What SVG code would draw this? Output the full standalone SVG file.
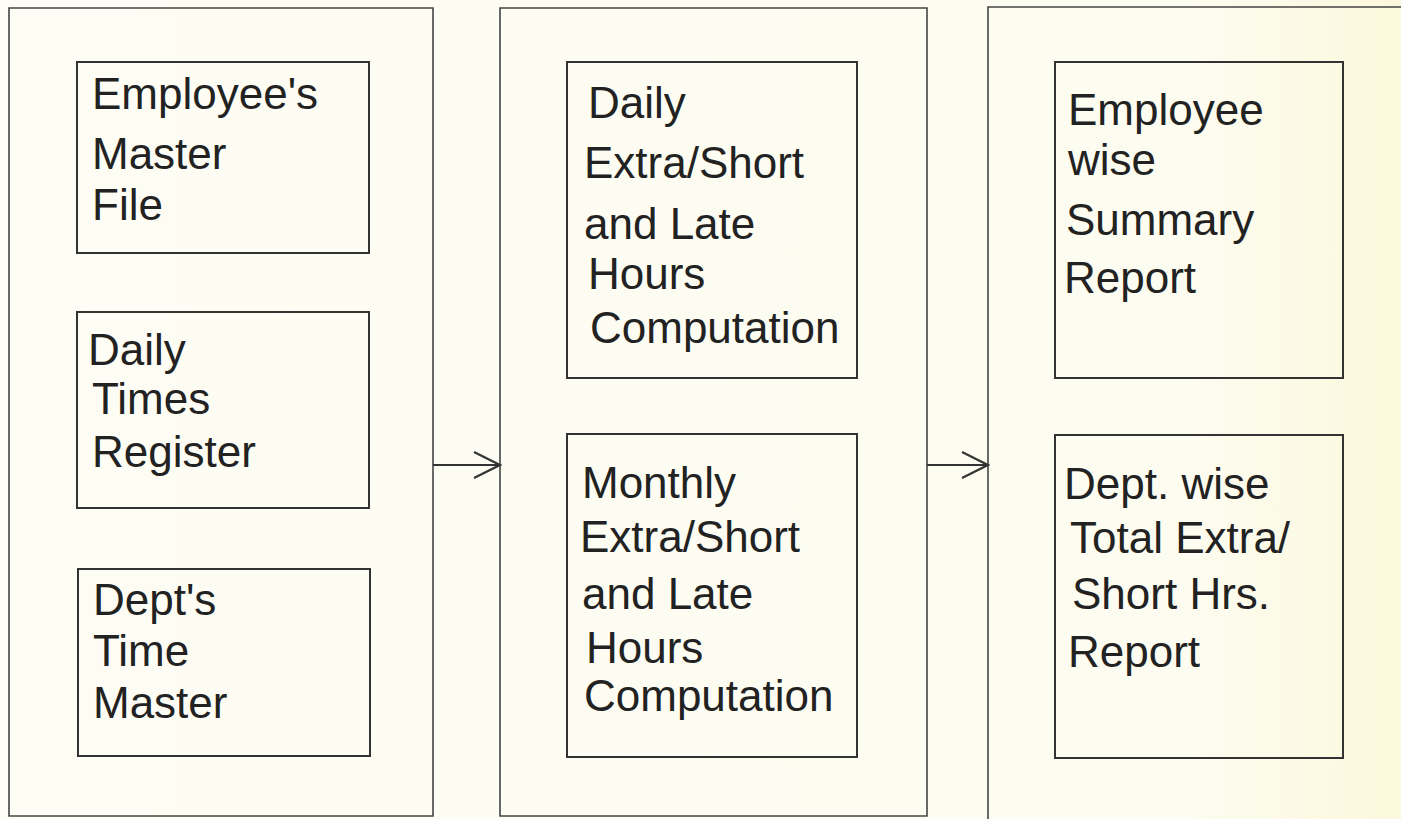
<svg xmlns="http://www.w3.org/2000/svg" width="1401" height="819" viewBox="0 0 1401 819">
<defs>
<linearGradient id="bg" x1="0" y1="0" x2="1" y2="0">
<stop offset="0" stop-color="#fdfdf5"/>
<stop offset="0.85" stop-color="#fdfcf0"/>
<stop offset="1" stop-color="#fbf8dc"/>
</linearGradient>
<marker id="arr" viewBox="0 0 30 30" refX="28" refY="15" markerWidth="30" markerHeight="30" markerUnits="userSpaceOnUse" orient="auto">
<path d="M2,2 L28,15 L2,28" fill="none" stroke="#333" stroke-width="2.2"/>
</marker>
<style>
.outer{fill:none;stroke:#444;stroke-width:1.6}
.box{fill:none;stroke:#333;stroke-width:2}
.t{font-family:"Liberation Sans","DejaVu Sans",sans-serif;font-size:44px;fill:#222}
.conn{fill:none;stroke:#333;stroke-width:1.8}
</style>
</defs>
<rect width="1401" height="819" fill="url(#bg)"/>

<g id="col-input">
<path class="outer" d="M9,8 H433 V816 H9 Z"/>
</g>
<g id="col-process">
<path class="outer" d="M500,8 H927 V816 H500 Z"/>
</g>
<g id="col-output">
<path class="outer" d="M1401,7 H988 V819"/>
</g>

<g id="employee-master-file">
<rect class="box" x="77" y="62" width="292" height="191"/>
<text class="t" x="92" y="109">Employee's</text>
<text class="t" x="92" y="169">Master</text>
<text class="t" x="92" y="220">File</text>
</g>
<g id="daily-times-register">
<rect class="box" x="77" y="312" width="292" height="196"/>
<text class="t" x="88" y="365">Daily</text>
<text class="t" x="92" y="414">Times</text>
<text class="t" x="92" y="467">Register</text>
</g>
<g id="dept-time-master">
<rect class="box" x="78" y="569" width="292" height="187"/>
<text class="t" x="93" y="615">Dept's</text>
<text class="t" x="93" y="666">Time</text>
<text class="t" x="93" y="718">Master</text>
</g>

<g id="daily-computation">
<rect class="box" x="567" y="62" width="290" height="316"/>
<text class="t" x="588" y="118">Daily</text>
<text class="t" x="584" y="178">Extra/Short</text>
<text class="t" x="584" y="239">and Late</text>
<text class="t" x="588" y="289">Hours</text>
<text class="t" x="590" y="343">Computation</text>
</g>
<g id="monthly-computation">
<rect class="box" x="567" y="434" width="290" height="323"/>
<text class="t" x="582" y="498">Monthly</text>
<text class="t" x="580" y="552">Extra/Short</text>
<text class="t" x="582" y="609">and Late</text>
<text class="t" x="586" y="663">Hours</text>
<text class="t" x="584" y="711">Computation</text>
</g>

<g id="employee-summary-report">
<rect class="box" x="1055" y="62" width="288" height="316"/>
<text class="t" x="1068" y="125">Employee</text>
<text class="t" x="1068" y="175">wise</text>
<text class="t" x="1066" y="235">Summary</text>
<text class="t" x="1064" y="293">Report</text>
</g>
<g id="dept-report">
<rect class="box" x="1055" y="435" width="288" height="323"/>
<text class="t" x="1064" y="499">Dept. wise</text>
<text class="t" x="1070" y="553">Total Extra/</text>
<text class="t" x="1072" y="609">Short Hrs.</text>
<text class="t" x="1068" y="667">Report</text>
</g>

<g id="connectors">
<line class="conn" x1="433" y1="465" x2="500" y2="465" marker-end="url(#arr)"/>
<line class="conn" x1="927" y1="465" x2="988" y2="465" marker-end="url(#arr)"/>
</g>
</svg>
